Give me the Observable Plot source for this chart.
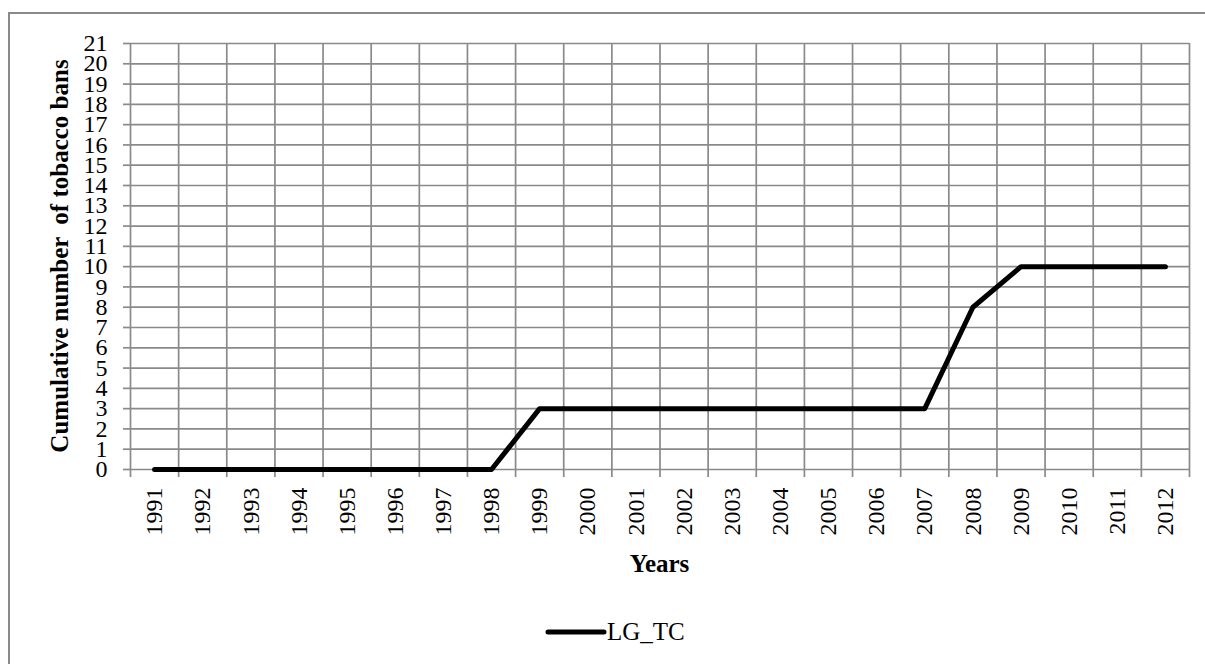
<!DOCTYPE html>
<html>
<head>
<meta charset="utf-8">
<script src="https://cdn.jsdelivr.net/npm/d3@7"></script>
<script src="https://cdn.jsdelivr.net/npm/@observablehq/plot@0.6"></script>
<style>
  html, body { margin: 0; padding: 0; background: #fff; }
  #chart { width: 1205px; height: 664px; overflow: hidden; }
</style>
</head>
<body>
<div id="chart"></div>
<script>
const years = [1991,1992,1993,1994,1995,1996,1997,1998,1999,2000,2001,2002,2003,2004,2005,2006,2007,2008,2009,2010,2011,2012];
const bans  = [0,0,0,0,0,0,0,0,3,3,3,3,3,3,3,3,3,8,10,10,10,10];
const yTicks = d3.range(0, 22);
const seriesName = "LG_TC";
const xTitle = "Years";
const yTitle = "Cumulative number  of tobacco bans";

const data = years.map((y, i) => ({year: y, value: bans[i]}));
const bounds = d3.range(years.length + 1).map(i => years[0] - 0.5 + i);
const grid = "#8a8a8a";

const W = 1205, H = 664;
const mL = 130, mR = 16, mT = 43, mB = 195;

const chart = Plot.plot({
  width: W, height: H,
  marginLeft: mL, marginRight: mR, marginTop: mT, marginBottom: mB,
  style: {fontFamily: "'Liberation Serif', 'Times New Roman', serif", fontSize: "24px", color: "black", background: "white"},
  x: {type: "linear", domain: [bounds[0], bounds[bounds.length - 1]]},
  y: {type: "linear", domain: [0, 21]},
  marks: [
    Plot.gridX(bounds, {stroke: grid, strokeOpacity: 1, strokeWidth: 1.7}),
    Plot.gridY(yTicks, {stroke: grid, strokeOpacity: 1, strokeWidth: 1.7}),
    Plot.axisY({ticks: yTicks, tickSize: 7, tickPadding: 16, tickFormat: d => String(d), stroke: grid, strokeWidth: 1.7, fill: "black", fontSize: 24, label: null}),
    Plot.axisX({ticks: bounds, tickSize: 8, tickFormat: () => "", stroke: grid, strokeWidth: 1.7, label: null}),
    Plot.text(years, {x: d => d, text: d => String(d), frameAnchor: "bottom", dy: 18, rotate: -90, textAnchor: "end", lineAnchor: "middle", fill: "black", fontSize: 24}),
    Plot.line(data, {x: "year", y: "value", stroke: "black", strokeWidth: 5, strokeLinejoin: "round", strokeLinecap: "round"})
  ]
});

document.getElementById("chart").appendChild(chart);

const svg = d3.select(chart);
// outer chart border (Excel chart area), cropped at right/bottom
svg.append("path")
  .attr("d", `M9,${H + 10} L9,13 L${W + 10},13`)
  .attr("fill", "none").attr("stroke", "#8a8a8a").attr("stroke-width", 2);

// y-axis title
svg.append("text")
  .attr("transform", `translate(68,${(mT + (H - mB)) / 2}) rotate(-90)`)
  .attr("text-anchor", "middle")
  .attr("font-weight", "bold")
  .attr("font-size", 25)
  .attr("fill", "black")
  .text(yTitle);

// x-axis title
svg.append("text")
  .attr("x", (mL + (W - mR)) / 2)
  .attr("y", 572)
  .attr("text-anchor", "middle")
  .attr("font-weight", "bold")
  .attr("font-size", 25)
  .attr("fill", "black")
  .text(xTitle);

// legend
svg.append("line")
  .attr("x1", 548).attr("x2", 604).attr("y1", 632).attr("y2", 632)
  .attr("stroke", "black").attr("stroke-width", 5).attr("stroke-linecap", "round");
svg.append("text")
  .attr("x", 607).attr("y", 640)
  .attr("text-anchor", "start")
  .attr("font-size", 25)
  .attr("fill", "black")
  .text(seriesName);
</script>
</body>
</html>
